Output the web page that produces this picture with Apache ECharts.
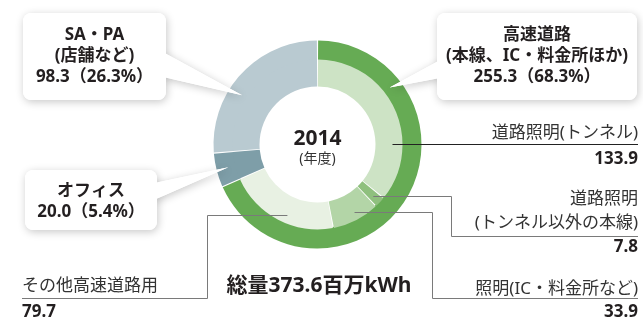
<!DOCTYPE html>
<html>
<head>
<meta charset="utf-8">
<script src="https://cdn.jsdelivr.net/npm/echarts@6/dist/echarts.min.js"></script>
<style>
  html, body { margin: 0; padding: 0; background: #ffffff; }
  #chart { width: 643px; height: 323px; }
</style>
</head>
<body>
<div id="chart"></div>
<script>
// Main breakdown (outer ring), clockwise from 12 o'clock
const mainNames  = ['高速道路', 'オフィス', 'SA・PA'];
const mainNotes  = ['(本線、IC・料金所ほか)', '', '(店舗など)'];
const mainValues = [255.3, 20.0, 98.3];
const mainColors = ['#66ab54', '#7e9ea8', '#b9cad1'];

// Expressway breakdown (inner ring)
const subNames  = ['道路照明(トンネル)', '道路照明\n(トンネル以外の本線)', '照明(IC・料金所など)', 'その他高速道路用'];
const subValues = [133.9, 7.8, 33.9, 79.7];
const subColors = ['#cde3c5', '#8fc07e', '#b3d5a7', '#e8f1e3'];

const yearLabel = '2014';
const yearNote  = '(年度)';
const totalPrefix = '総量';
const unitLabel = '百万kWh';

// Geometry
const CX = 317.5, CY = 144.5;
const R_HOLE = 58, R_MID = 84, R_OUT = 104;
const PAD = 0.7;
const FONT = '"Noto Sans", "Noto Sans CJK JP", sans-serif';
const INK = '#231f20';

const total = mainValues.reduce((a, b) => a + b, 0);
const share = v => (v / total * 100).toFixed(1);

// angle (deg, clockwise from top) at a cumulative value
const angleAt = cum => cum / total * 360;
const polar = (r, deg) => {
  const a = deg * Math.PI / 180;
  return [CX + r * Math.sin(a), CY - r * Math.cos(a)];
};
const sliceAngle = (values, i, frac) => {
  let start = 0;
  for (let k = 0; k < i; k++) start += values[k];
  return angleAt(start + values[i] * frac);
};
const half = v => Math.round(v - 0.5) + 0.5;

// Callouts for the main categories
const callouts = [
  { idx: 2, box: [23, 13, 143, 87], side: 'right', base: [52, 77], frac: 0.40, r: 90, dy: 0 },
  { idx: 0, box: [437, 13, 200, 87], side: 'left', base: [60, 78], frac: 0.21, r: 92, dy: 0 },
  { idx: 1, box: [25, 170, 132, 60], side: 'right', base: [183, 200], frac: 0.5, r: 92, dy: 1.5 }
];

// Leader lines for the expressway breakdown
const leaders = [
  { frac: 0.70, r: 75, elbowX: null, lineY: null, endX: 638, align: 'right', nameY: 133, valueY: 159, stroke: '#222' },
  { frac: 0.50, r: 76, elbowX: 451.5, lineY: 236.5, endX: 638, align: 'right', nameY: 211.3, valueY: 247, stroke: '#7a7a7a' },
  { frac: 0.45, r: 77, elbowX: 432.5, lineY: 298.5, endX: 638, align: 'right', nameY: 289.5, valueY: 312.5, stroke: '#7a7a7a' },
  { frac: 0.44, r: 77, elbowX: 207.5, lineY: 298.5, endX: 22, align: 'left', nameY: 286.5, valueY: 312.5, stroke: '#7a7a7a' }
];

function text(str, x, y, font, fill, align, z, lineHeight) {
  return {
    type: 'text', z: z || 110, silent: true,
    style: {
      text: str, x: x, y: y, font: font, fill: fill,
      textAlign: align, textVerticalAlign: 'middle',
      align: align, verticalAlign: 'middle',
      lineHeight: lineHeight || undefined
    }
  };
}

const graphics = [];
const LH = 21;

callouts.forEach(c => {
  const [bx, by, bw, bh] = c.box;
  const tip = polar(c.r, sliceAngle(mainValues, c.idx, c.frac));
  const edgeX = c.side === 'right' ? bx + bw - 3 : bx + 3;
  const pts = [[edgeX, c.base[0]], tip, [edgeX, c.base[1]]];
  const shadow = { shadowBlur: 9, shadowColor: 'rgba(0,0,0,0.22)', shadowOffsetX: 1, shadowOffsetY: 2 };
  graphics.push({ type: 'polygon', z: 100, silent: true, shape: { points: pts }, style: Object.assign({ fill: '#fff' }, shadow) });
  graphics.push({ type: 'rect', z: 100, silent: true, shape: { x: bx, y: by, width: bw, height: bh, r: 8 }, style: Object.assign({ fill: '#fff' }, shadow) });
  graphics.push({ type: 'polygon', z: 101, silent: true, shape: { points: pts }, style: { fill: '#fff' } });
  graphics.push({ type: 'rect', z: 101, silent: true, shape: { x: bx, y: by, width: bw, height: bh, r: 8 }, style: { fill: '#fff' } });
  const titleLines = [mainNames[c.idx]];
  if (mainNotes[c.idx]) titleLines.push(mainNotes[c.idx]);
  const n = titleLines.length + 1;
  const cx = bx + bw / 2;
  const top = by + bh / 2 + c.dy - (n - 1) * LH / 2;
  titleLines.forEach((t, k) => {
    graphics.push(text(t, cx, top + k * LH, 'bold 17px ' + FONT, INK, 'center', 102));
  });
  const valueLine = mainValues[c.idx].toFixed(1) + '（' + share(mainValues[c.idx]) + '%）';
  graphics.push(text(valueLine, cx, top + (n - 1) * LH, 'bold 17px ' + FONT, INK, 'center', 102));
});

leaders.forEach((l, i) => {
  const s = polar(l.r, sliceAngle(subValues, i, l.frac));
  const sy = half(s[1]);
  const ex = l.elbowX === null ? s[0] : l.elbowX;
  const ly = l.lineY === null ? sy : l.lineY;
  graphics.push({
    type: 'polyline', z: 105, silent: true,
    shape: { points: [[s[0], sy], [ex, sy], [ex, ly], [l.endX, ly]] },
    style: { stroke: l.stroke, lineWidth: 1, fill: null }
  });
  graphics.push(text(subNames[i], l.endX, l.nameY, '17px ' + FONT, '#333', l.align, 110, 24));
  graphics.push(text(subValues[i].toFixed(1), l.endX, l.valueY, 'bold 17px ' + FONT, INK, l.align, 110));
});

graphics.push(text(yearLabel, CX, 139, 'bold 21px ' + FONT, INK, 'center', 110));
graphics.push(text(yearNote, CX, 159, '14px ' + FONT, '#333', 'center', 110));
graphics.push(text(totalPrefix + total.toFixed(1) + unitLabel, 319, 286.5, 'bold 21px ' + FONT, INK, 'center', 110));

const pieBase = {
  type: 'pie', center: [CX, CY], startAngle: 90, clockwise: true,
  padAngle: PAD, silent: true, animation: false,
  label: { show: false }, labelLine: { show: false },
  emphasis: { disabled: true }, itemStyle: { borderWidth: 0 }
};

const outerData = mainNames.map((n, i) => ({ name: n, value: mainValues[i], itemStyle: { color: mainColors[i] } }));
const innerData = subNames.map((n, i) => ({ name: n, value: subValues[i], itemStyle: { color: subColors[i] } }))
  .concat(mainNames.slice(1).map((n, k) => ({ name: n, value: mainValues[k + 1], itemStyle: { color: mainColors[k + 1] } })));

const chart = echarts.init(document.getElementById('chart'), null, { renderer: 'canvas' });
chart.setOption({
  backgroundColor: '#ffffff',
  animation: false,
  series: [
    Object.assign({}, pieBase, { radius: [R_MID, R_OUT], data: outerData }),
    Object.assign({}, pieBase, { radius: [R_HOLE, R_MID + 1], data: innerData })
  ],
  graphic: { elements: graphics }
});
</script>
</body>
</html>
